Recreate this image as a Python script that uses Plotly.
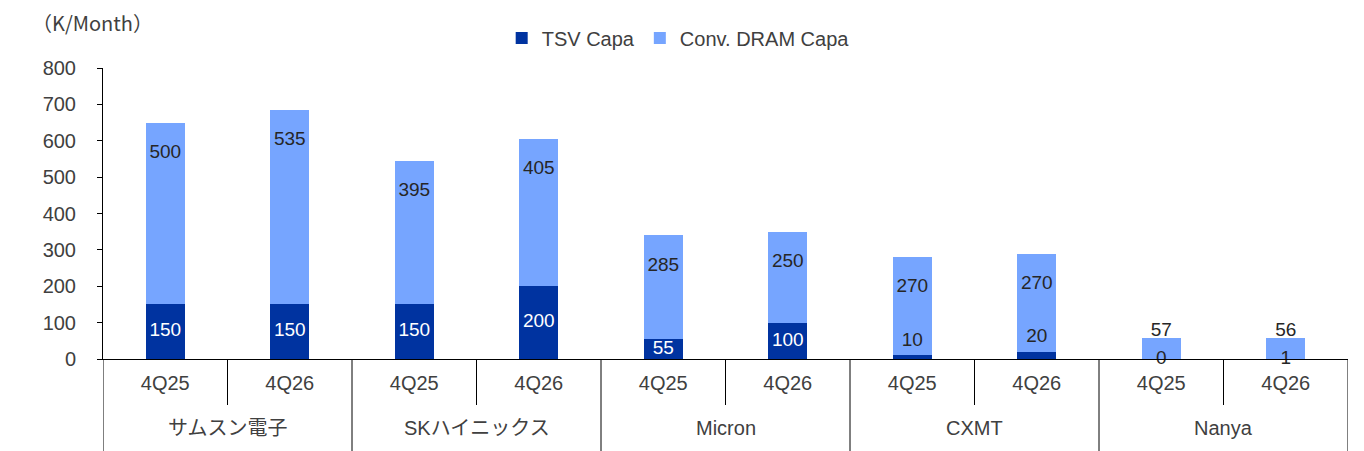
import plotly.graph_objects as go

companies = ["サムスン電子", "サムスン電子", "SKハイニックス", "SKハイニックス", "Micron", "Micron",
             "CXMT", "CXMT", "Nanya", "Nanya"]
quarters = ["4Q25", "4Q26"] * 5
tsv_capa = [150, 150, 150, 200, 55, 100, 10, 20, 0, 1]
conv_capa = [500, 535, 395, 405, 285, 250, 270, 270, 57, 56]

DARK = "#0033A0"
LIGHT = "#76A5FF"
TXT = "#404040"
FONT = "Liberation Sans, Arial, Noto Sans CJK JP"
FS = 20

keys = [f"{c} {q}" for c, q in zip(companies, quarters)]

fig = go.Figure()
fig.add_trace(go.Bar(x=keys, y=tsv_capa, name="TSV Capa", marker=dict(color=DARK, line=dict(width=0))))
fig.add_trace(go.Bar(x=keys, y=conv_capa, name="Conv. DRAM Capa", marker=dict(color=LIGHT, line=dict(width=0))))

# data label positions derived from values
lab_x, lab_y, lab_t, lab_c = [], [], [], []
for k, d, l in zip(keys, tsv_capa, conv_capa):
    total = d + l
    if total < 100:
        dy = 0
        ly = total + 20
    else:
        dy = d / 2 if d >= 40 else d + 40
        ly = total - 84
    lab_x += [k, k]
    lab_y += [dy, ly]
    lab_t += [str(d), str(l)]
    lab_c += ["white" if d >= 40 else "#262626", "#262626"]

fig.add_trace(go.Scatter(x=lab_x, y=lab_y, text=lab_t, mode="text",
                         textfont=dict(color=lab_c, size=19, family=FONT),
                         textposition="middle center", showlegend=False, hoverinfo="skip",
                         cliponaxis=False))

fig.update_layout(
    width=1364, height=451,
    margin=dict(l=103, r=16, t=68, b=92, autoexpand=False),
    barmode="stack", bargap=0.69,
    plot_bgcolor="white", paper_bgcolor="white",
    font=dict(family=FONT, size=FS, color=TXT),
    legend=dict(orientation="h", x=0.462, xanchor="center", y=1.103, yanchor="middle",
                font=dict(size=FS, color=TXT), traceorder="normal", itemwidth=30),
    showlegend=True,
)
fig.update_yaxes(range=[0, 800], dtick=100, showgrid=False, zeroline=False,
                 showline=True, linecolor="#000000", linewidth=1,
                 ticks="outside", ticklen=5, tickcolor="#000000",
                 tickfont=dict(size=FS, color=TXT), ticklabelstandoff=17)
fig.update_xaxes(type="category", range=[-0.5, len(keys) - 0.5], showgrid=False,
                 showline=True, linecolor="#000000", linewidth=1,
                 ticks="", tickvals=keys, ticktext=quarters, ticklabelstandoff=6,
                 tickfont=dict(size=FS, color=TXT))

# axis group labels and separators (category-axis positions)
groups = list(dict.fromkeys(companies))
ph = 451 - 68 - 92
for g, name in enumerate(groups):
    fig.add_annotation(text=name, xref="x", yref="paper", x=2 * g + 0.5, y=-(428 - 359) / ph,
                       xanchor="center", yanchor="middle", showarrow=False,
                       font=dict(size=FS, color=TXT, family=FONT))
    fig.add_shape(type="line", xref="x", yref="paper", x0=2 * g + 0.5, x1=2 * g + 0.5,
                  y0=0, y1=-(405 - 359) / ph, line=dict(color="#000000", width=1))
for b in range(len(groups) + 1):
    fig.add_shape(type="line", xref="x", yref="paper", x0=2 * b - 0.5, x1=2 * b - 0.5,
                  y0=0, y1=-(452 - 359) / ph, line=dict(color="#000000", width=1))

fig.add_annotation(text="（K/Month）", xref="paper", yref="paper", x=(30 - 103) / 1245, y=1 + (68 - 22) / ph,
                   xanchor="left", yanchor="middle", showarrow=False,
                   font=dict(size=FS, color=TXT, family="Noto Sans CJK JP"))

fig.write_html("out.html", post_script="document.body.style.margin='0';",
               config={"displayModeBar": False})
